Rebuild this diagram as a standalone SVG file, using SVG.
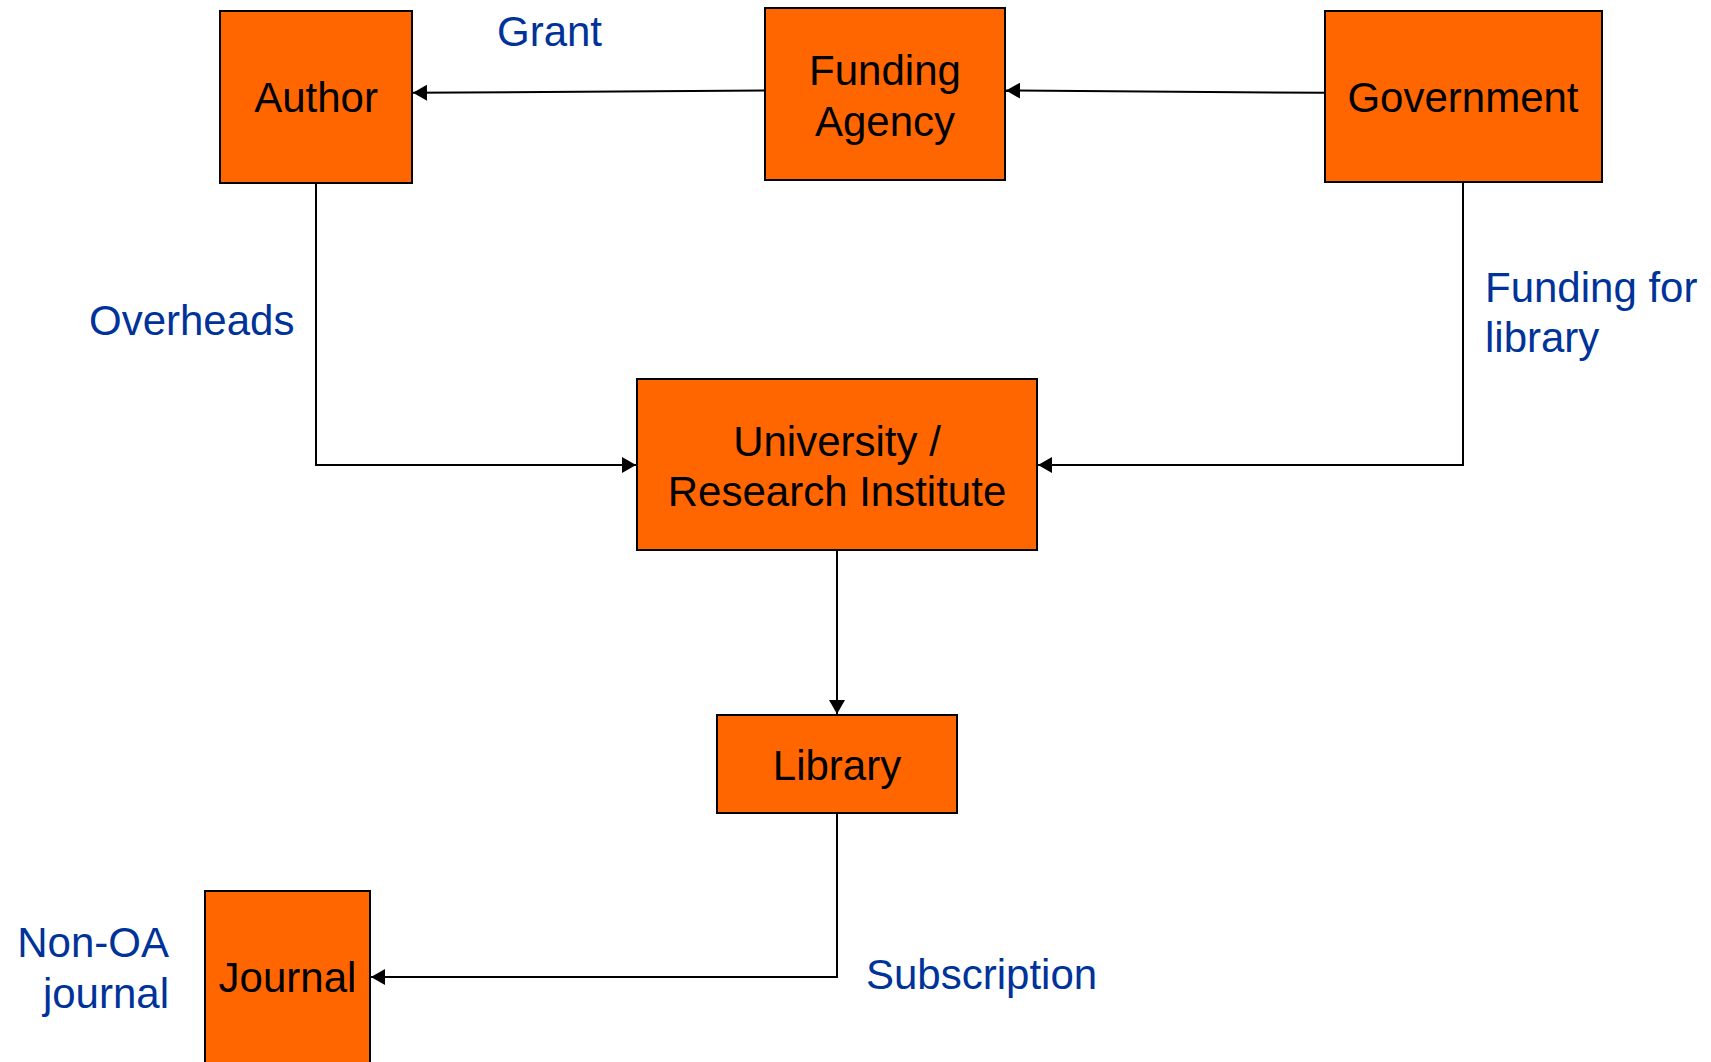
<svg xmlns="http://www.w3.org/2000/svg" width="1711" height="1062" viewBox="0 0 1711 1062">
  <style>
    .box { fill: #ff6600; stroke: #000; stroke-width: 2; }
    .nodetext { font-family: "Liberation Sans", Arial, sans-serif; font-size: 42px; fill: #000; text-anchor: middle; }
    .label { font-family: "Liberation Sans", Arial, sans-serif; font-size: 42px; fill: #003399; }
    .edge { fill: none; stroke: #000; stroke-width: 2; }
  </style>
  <defs>
    <marker id="arrow" viewBox="0 0 14 16" refX="14" refY="8" markerWidth="14" markerHeight="16" markerUnits="userSpaceOnUse" orient="auto">
      <path d="M0,0 L14,8 L0,16 Z" fill="#000"/>
    </marker>
  </defs>
  <rect width="1711" height="1062" fill="#fff"/>

  <!-- connectors -->
  <g id="connectors">
    <path class="edge" d="M765,90.5 L413,92.8" marker-end="url(#arrow)"/>
    <path class="edge" d="M1325,92.8 L1006,90.5" marker-end="url(#arrow)"/>
    <path class="edge" d="M316,183 L316,465 L636,465" marker-end="url(#arrow)"/>
    <path class="edge" d="M1463,183 L1463,465 L1038,465" marker-end="url(#arrow)"/>
    <path class="edge" d="M837,551 L837,714" marker-end="url(#arrow)"/>
    <path class="edge" d="M837,813 L837,977 L371,977" marker-end="url(#arrow)"/>
  </g>

  <!-- nodes -->
  <g id="author">
    <rect class="box" x="220" y="11" width="192" height="172"/>
    <text class="nodetext" x="316" y="112">Author</text>
  </g>
  <g id="funding-agency">
    <rect class="box" x="765" y="8" width="240" height="172"/>
    <text class="nodetext" x="885" y="85">Funding</text>
    <text class="nodetext" x="885" y="136">Agency</text>
  </g>
  <g id="government">
    <rect class="box" x="1325" y="11" width="277" height="171"/>
    <text class="nodetext" x="1463" y="112">Government</text>
  </g>
  <g id="university">
    <rect class="box" x="637" y="379" width="400" height="171"/>
    <text class="nodetext" x="837" y="456">University /</text>
    <text class="nodetext" x="837" y="506">Research Institute</text>
  </g>
  <g id="library">
    <rect class="box" x="717" y="715" width="240" height="98"/>
    <text class="nodetext" x="837" y="780">Library</text>
  </g>
  <g id="journal">
    <rect class="box" x="205" y="891" width="165" height="180"/>
    <text class="nodetext" x="287.5" y="992">Journal</text>
  </g>

  <!-- flow labels -->
  <g id="labels">
    <text class="label" x="497" y="46">Grant</text>
    <text class="label" x="89" y="335">Overheads</text>
    <text class="label" x="1485" y="302">Funding for</text>
    <text class="label" x="1485" y="352">library</text>
    <text class="label" x="866" y="989">Subscription</text>
    <text class="label" x="169" y="957" text-anchor="end">Non-OA</text>
    <text class="label" x="169" y="1008" text-anchor="end">journal</text>
  </g>
</svg>
